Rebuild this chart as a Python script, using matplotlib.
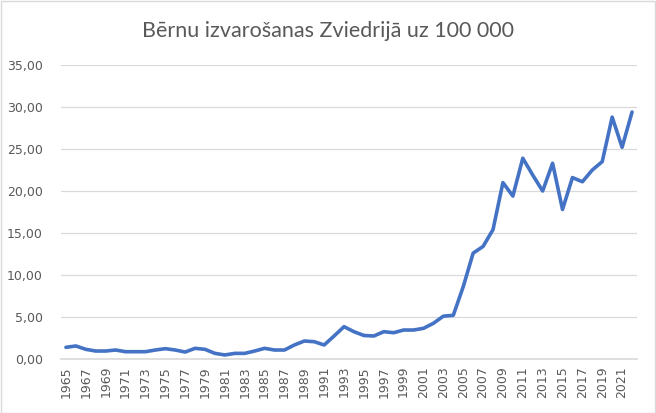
import matplotlib
matplotlib.use("Agg")
import matplotlib.pyplot as plt
from matplotlib.patches import Rectangle

years = [1965, 1966, 1967, 1968, 1969, 1970, 1971, 1972, 1973, 1974,
         1975, 1976, 1977, 1978, 1979, 1980, 1981, 1982, 1983, 1984,
         1985, 1986, 1987, 1988, 1989, 1990, 1991, 1992, 1993, 1994,
         1995, 1996, 1997, 1998, 1999, 2000, 2001, 2002, 2003, 2004,
         2005, 2006, 2007, 2008, 2009, 2010, 2011, 2012, 2013, 2014,
         2015, 2016, 2017, 2018, 2019, 2020, 2021, 2022]
values = [1.39, 1.55, 1.15, 0.95, 0.95, 1.07, 0.87, 0.87, 0.87, 1.07,
          1.23, 1.07, 0.83, 1.27, 1.15, 0.67, 0.48, 0.67, 0.67, 0.95,
          1.27, 1.07, 1.07, 1.67, 2.14, 2.06, 1.67, 2.74, 3.85, 3.25,
          2.80, 2.74, 3.25, 3.13, 3.45, 3.45, 3.65, 4.25, 5.10, 5.20,
          8.60, 12.60, 13.40, 15.40, 21.00, 19.40, 23.90, 21.90, 20.00, 23.30,
          17.80, 21.60, 21.10, 22.50, 23.50, 28.80, 25.20, 29.40]
title = "Bērnu izvarošanas Zviedrijā uz 100 000"
yticks = [0, 5, 10, 15, 20, 25, 30, 35]

W, H = 656, 413
fig = plt.figure(figsize=(W / 100, H / 100), dpi=100)
fig.patch.set_facecolor("white")
fig.patches.append(Rectangle((0.5 / W, 0.5 / H), 1 - 1.5 / W, 1 - 1.5 / H,
                             transform=fig.transFigure, fill=False,
                             edgecolor="#D9D9D9", linewidth=1.0))

ax = fig.add_axes([61 / W, (H - 359) / H, (637 - 61) / W, (359 - 65) / H])
ax.plot(years, values, color="#4472C4", linewidth=2.6, solid_joinstyle="round",
        solid_capstyle="round", zorder=3)

ax.set_xlim(years[0] - 0.5, years[-1] + 0.5)
ax.set_ylim(0, 35)
ax.set_yticks(yticks)
ax.set_yticklabels([f"{v:.2f}".replace(".", ",") for v in yticks],
                   fontsize=9, color="#595959", family="DejaVu Sans")
xt = years[::2]
ax.set_xticks(xt)
ax.set_xticklabels([str(y) for y in xt], rotation=90, fontsize=9,
                   color="#595959", family="DejaVu Sans")
ax.tick_params(axis="both", length=0)
ax.tick_params(axis="y", pad=13)
ax.tick_params(axis="x", pad=5)
ax.grid(axis="y", color="#D9D9D9", linewidth=0.9, zorder=0)
for s in ["top", "right", "left"]:
    ax.spines[s].set_visible(False)
ax.spines["bottom"].set_color("#D9D9D9")
ax.spines["bottom"].set_linewidth(1.2)

fig.text(0.5, 1 - 31 / H, title, ha="center", va="center", fontsize=15.5,
         color="#595959", family="Lato")

fig.savefig("out.png", dpi=100)
